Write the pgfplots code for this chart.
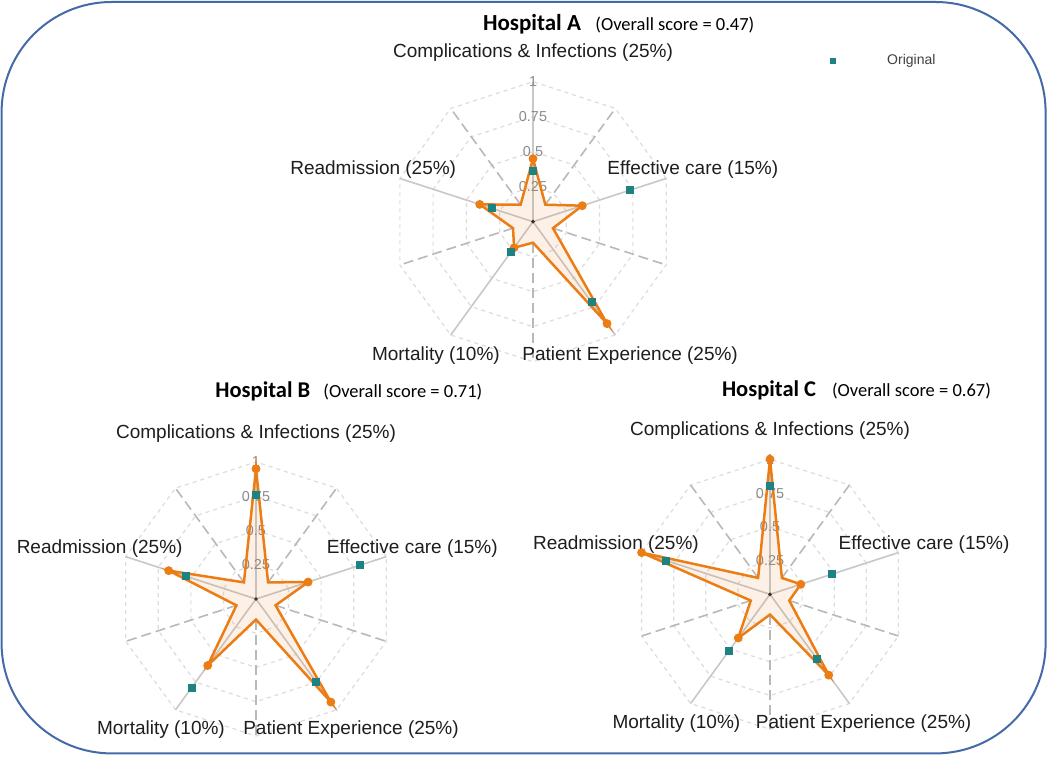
\documentclass[border=0pt]{standalone}
\usepackage{pgfplots}
\pgfplotsset{compat=1.18}
\usepgfplotslibrary{polar}
\usepackage{fontspec}
\setmainfont{Liberation Sans}
\newfontfamily\calibri{Carlito}
\definecolor{frameblue}{RGB}{68,106,168}
\definecolor{lineor}{RGB}{236,125,20}
\definecolor{teal2}{RGB}{30,130,130}
\definecolor{spokegray}{RGB}{200,200,200}
\definecolor{dashgray}{RGB}{185,185,185}
\definecolor{ringgray}{RGB}{220,220,220}
\definecolor{tickgray}{RGB}{140,140,140}
\definecolor{labelblack}{RGB}{30,30,30}
\pgfplotsset{
  radar/.style={scale only axis, hide axis, clip=false, xmin=0, xmax=360, ymin=0, ymax=1, anchor=center},
  ring/.style={ringgray, line width=0.6bp, dash pattern=on 2bp off 2bp, no marks, forget plot},
  spoke/.style={spokegray, line width=0.8bp, no marks, forget plot},
  dspoke/.style={dashgray, line width=0.8bp, dash pattern=on 5bp off 2.5bp, no marks, forget plot},
  poly/.style={lineor, line width=1.25bp, fill=lineor, fill opacity=0.1, no marks, forget plot},
  omark/.style={only marks, mark=*, mark size=2bp, lineor, mark options={fill=lineor}, forget plot},
  tmark/.style={only marks, mark=square*, mark size=1.75bp, teal2, mark options={fill=teal2}},
  cdot/.style={only marks, mark=*, mark size=0.7bp, black!80, forget plot},
}
\tikzset{tlab/.style={font=\fontsize{7.2bp}{8bp}\selectfont, text=tickgray, inner sep=0pt},
  vlab/.style={font=\fontsize{9.5bp}{11bp}\selectfont, text=labelblack, inner sep=0pt}}
\newcommand{\radargrid}{%
  \addplot[ring] coordinates {(18,0.25) (54,0.25) (90,0.25) (126,0.25) (162,0.25) (198,0.25) (234,0.25) (270,0.25) (306,0.25) (342,0.25) (18,0.25)};
  \addplot[ring] coordinates {(18,0.5) (54,0.5) (90,0.5) (126,0.5) (162,0.5) (198,0.5) (234,0.5) (270,0.5) (306,0.5) (342,0.5) (18,0.5)};
  \addplot[ring] coordinates {(18,0.75) (54,0.75) (90,0.75) (126,0.75) (162,0.75) (198,0.75) (234,0.75) (270,0.75) (306,0.75) (342,0.75) (18,0.75)};
  \addplot[ring] coordinates {(18,1) (54,1) (90,1) (126,1) (162,1) (198,1) (234,1) (270,1) (306,1) (342,1) (18,1)};
  \addplot[dspoke] coordinates {(54,0.15) (54,1)};
  \addplot[dspoke] coordinates {(342,0.15) (342,1)};
  \addplot[dspoke] coordinates {(270,0.15) (270,1)};
  \addplot[dspoke] coordinates {(198,0.15) (198,1)};
  \addplot[dspoke] coordinates {(126,0.15) (126,1)};
  \addplot[spoke] coordinates {(90,0) (90,1)};
  \addplot[spoke] coordinates {(18,0) (18,1)};
  \addplot[spoke] coordinates {(306,0) (306,1)};
  \addplot[spoke] coordinates {(234,0) (234,1)};
  \addplot[spoke] coordinates {(162,0) (162,1)};
  \node[tlab] at (axis cs:90,0.25) {0.25};
  \node[tlab] at (axis cs:90,0.5) {0.5};
  \node[tlab] at (axis cs:90,0.75) {0.75};
  \node[tlab] at (axis cs:90,1) {1};
  \node[vlab] at (axis cs:90,1.21) {Complications \& Infections (25\%)};
  \node[vlab] at (axis cs:18,1.2) {Effective care (15\%)};
  \node[vlab] at (axis cs:162,1.2) {Readmission (25\%)};
  \node[vlab] at (axis cs:234,1.18) {Mortality (10\%)};
  \node[vlab] at (axis cs:306,1.18) {Patient Experience (25\%)};
}
\begin{document}
\begin{tikzpicture}
\useasboundingbox (0,0) rectangle (525bp,378.5bp);
\fill[white] (0,0) rectangle (525bp,378.5bp);
\draw[frameblue, line width=1bp, rounded corners=55bp] (0.8bp,1.8bp) rectangle (522.8bp,377.5bp);

% Hospital A
\begin{polaraxis}[radar, width=140bp, height=140bp, at={(266.5bp,267.65bp)},
  legend style={at={(axis description cs:1.56,1.075)}, anchor=west, draw=none, fill=none,
    inner sep=0pt, nodes={inner sep=0pt}, font=\fontsize{7bp}{8bp}\selectfont, text=black!75},
  legend image code/.code={\draw[#1, mark size=1.25bp] plot coordinates {(1.25bp,0bp)}; \path[draw=none] (0bp,0bp) (28.5bp,0bp);}]
\radargrid
\addplot[poly] coordinates {(90,0.45) (54,0.15) (18,0.37) (342,0.15) (306,0.90) (270,0.15) (234,0.23) (198,0.15) (162,0.40) (126,0.15)} -- cycle;
\addplot[omark] coordinates {(90,0.45) (18,0.37) (306,0.90) (234,0.23) (162,0.40)};
\addplot[cdot] coordinates {(0,0)};
\addplot[tmark] coordinates {(90,0.36) (18,0.73) (306,0.71) (234,0.27) (162,0.31)};
\addlegendentry{Original}
\end{polaraxis}

% Hospital B
\begin{polaraxis}[radar, width=137bp, height=137bp, at={(128bp,79bp)}]
\radargrid
\addplot[poly] coordinates {(90,0.95) (54,0.15) (18,0.40) (342,0.15) (306,0.93) (270,0.15) (234,0.60) (198,0.15) (162,0.67) (126,0.15)} -- cycle;
\addplot[omark] coordinates {(90,0.95) (18,0.40) (306,0.93) (234,0.60) (162,0.67)};
\addplot[cdot] coordinates {(0,0)};
\addplot[tmark] coordinates {(90,0.76) (18,0.80) (306,0.745) (234,0.80) (162,0.54)};
\end{polaraxis}

% Hospital C
\begin{polaraxis}[radar, width=135bp, height=135bp, at={(385bp,81.35bp)}]
\radargrid
\addplot[poly] coordinates {(90,1.0) (54,0.15) (18,0.24) (342,0.15) (306,0.74) (270,0.15) (234,0.40) (198,0.15) (162,1.0) (126,0.15)} -- cycle;
\addplot[omark] coordinates {(90,1.0) (18,0.24) (306,0.74) (234,0.40) (162,1.0)};
\addplot[cdot] coordinates {(0,0)};
\addplot[tmark] coordinates {(90,0.80) (18,0.48) (306,0.59) (234,0.52) (162,0.81)};
\end{polaraxis}

% Titles
\node[anchor=base west, inner sep=0pt, font=\calibri\bfseries\fontsize{11.5bp}{13bp}\selectfont] at (241.3bp,363bp) {Hospital A};
\node[anchor=base west, inner sep=0pt, font=\calibri\fontsize{9.25bp}{11bp}\selectfont] at (297.5bp,363bp) {(Overall score = 0.47)};
\node[anchor=base west, inner sep=0pt, font=\calibri\bfseries\fontsize{11.25bp}{13bp}\selectfont] at (107.5bp,179.5bp) {Hospital B};
\node[anchor=base west, inner sep=0pt, font=\calibri\fontsize{9.25bp}{11bp}\selectfont] at (161.5bp,179.5bp) {(Overall score = 0.71)};
\node[anchor=base west, inner sep=0pt, font=\calibri\bfseries\fontsize{11.25bp}{13bp}\selectfont] at (360.8bp,180bp) {Hospital C};
\node[anchor=base west, inner sep=0pt, font=\calibri\fontsize{9.25bp}{11bp}\selectfont] at (415.8bp,180bp) {(Overall score = 0.67)};
\end{tikzpicture}
\end{document}
